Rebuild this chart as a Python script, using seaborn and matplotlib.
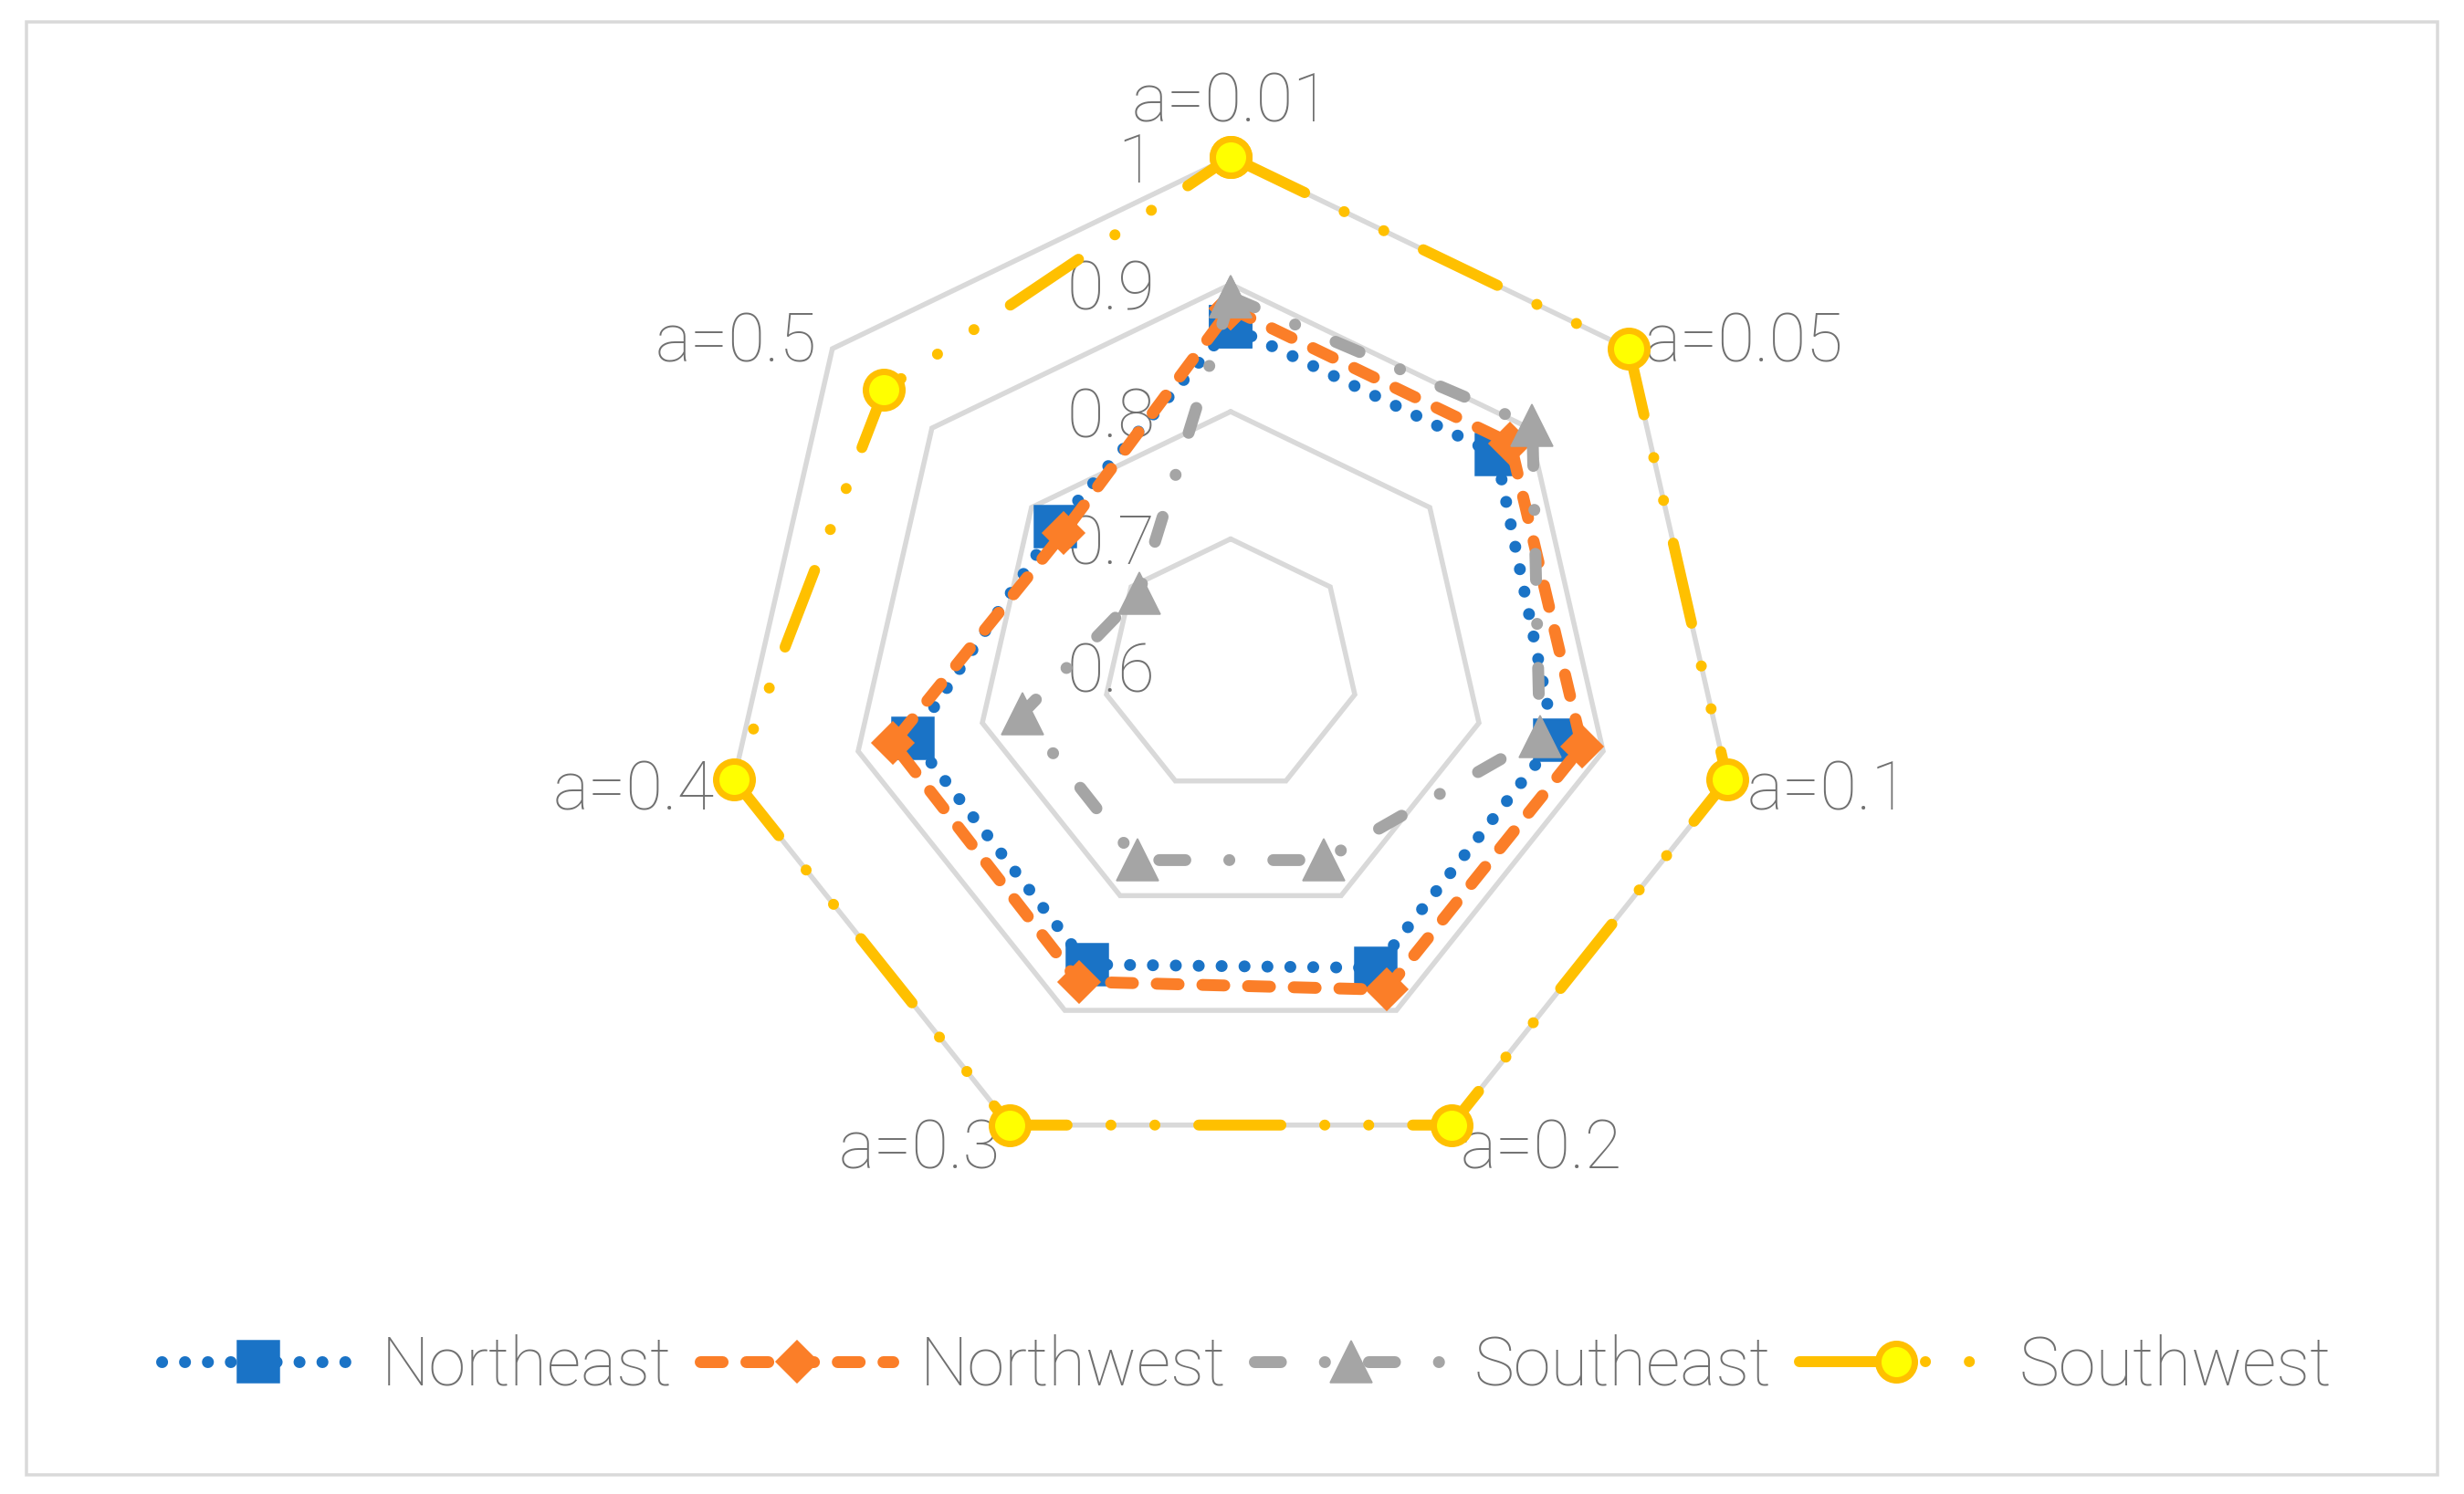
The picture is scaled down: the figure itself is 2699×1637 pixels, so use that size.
import numpy as np
import pandas as pd
import matplotlib
matplotlib.use("Agg")
import matplotlib.pyplot as plt
import seaborn as sns
from matplotlib.patches import Rectangle

# ---------------- data ----------------
categories = ["a=0.01", "a=0.05", "a=0.1", "a=0.2", "a=0.3", "a=0.4", "a=0.5"]
northeast = [0.867, 0.867, 0.861, 0.863, 0.860, 0.856, 0.776]
northwest = [0.881, 0.881, 0.883, 0.882, 0.875, 0.872, 0.768]
southeast = [0.890, 0.903, 0.849, 0.769, 0.769, 0.768, 0.692]
southwest = [1.0, 1.0, 1.0, 1.0, 1.0, 1.0, 0.948]
series_names = ["Northeast", "Northwest", "Southeast", "Southwest"]
r_ticks = [0.6, 0.7, 0.8, 0.9, 1.0]
r_tick_labels = ["0.6", "0.7", "0.8", "0.9", "1"]

# ---------------- style ----------------
sns.set_theme(style="white")
FAMILY = ["Roboto", "Noto Sans CJK SC", "DejaVu Sans"]
plt.rcParams["font.family"] = FAMILY
TXT = "#707070"
GRID = "#d9d9d9"
FS = 74
WEIGHT = "light"

W, H, DPI = 2699, 1637, 72
fig = plt.figure(figsize=(W / DPI, H / DPI), dpi=DPI)
fig.patch.set_facecolor("white")
fig.patches.append(Rectangle((29 / W, 1 - 1616 / H), (2670 - 29) / W, (1616 - 24) / H,
                             transform=fig.transFigure, fill=False,
                             edgecolor=GRID, linewidth=3.5))

# polar axes: centre (1348, 730) px, radius for r=1.0 is 558 px
r_max = 1.05
R_tot = 558 * (r_max - r_ticks[0]) / (r_ticks[-1] - r_ticks[0])
cx, cy = 1348, H - 730
ax = fig.add_axes([(cx - R_tot) / W, (cy - R_tot) / H, 2 * R_tot / W, 2 * R_tot / H],
                  projection="polar")
ax.set_theta_zero_location("N")
ax.set_theta_direction(-1)
ax.set_ylim(r_ticks[0], r_max)
ax.grid(False)
ax.spines["polar"].set_visible(False)
ax.set_xticks([])
ax.set_yticks([])
ax.set_facecolor("none")

n = len(categories)
theta = np.linspace(0, 2 * np.pi, n, endpoint=False)
theta_closed = np.append(theta, 2 * np.pi)

# polygonal gridlines
for r in r_ticks[1:]:
    ax.plot(theta_closed, [r] * (n + 1), color=GRID, lw=5.5, zorder=1,
            solid_joinstyle="miter")

txt_kw = dict(fontsize=FS, color=TXT, fontweight=WEIGHT, family=FAMILY)

# radial value labels
for r, lab in zip(r_ticks, r_tick_labels):
    ax.annotate(lab, xy=(0, r), xytext=(-83, 0), textcoords="offset points",
                ha="right", va="center_baseline", zorder=1.5, **txt_kw)

# category labels
for t, lab in zip(theta, categories):
    s, c = np.sin(t), np.cos(t)
    if abs(s) < 1e-6:
        ax.annotate(lab, xy=(t, r_ticks[-1]), xytext=(0, 39), textcoords="offset points",
                    ha="center", va="baseline", **txt_kw)
    else:
        ax.annotate(lab, xy=(t, r_ticks[-1]), xytext=(22 * s, 22 * c),
                    textcoords="offset points", ha="left" if s > 0 else "right",
                    va="center_baseline", **txt_kw)

# series
series_values = [northeast, northwest, southeast, southwest]
styles = [
    dict(color="#1a73c6", lw=13, linestyle=(0, (0.01, 1.92)), dash_capstyle="round",
         marker="s", markersize=46, markerfacecolor="#1a73c6",
         markeredgecolor="#1a73c6", markeredgewidth=1.5),
    dict(color="#fb7e28", lw=13, linestyle=(0, (1.85, 2.0)), dash_capstyle="round",
         marker="D", markersize=33, markerfacecolor="#fb7e28",
         markeredgecolor="#fb7e28", markeredgewidth=1.5),
    dict(color="#a5a5a5", lw=13, linestyle=(0, (2.2, 3.7, 0.01, 3.7)), dash_capstyle="round",
         marker="^", markersize=46, markerfacecolor="#a5a5a5",
         markeredgecolor="#a5a5a5", markeredgewidth=1.5),
    dict(color="#ffc000", lw=12, linestyle=(0, (7.5, 4.0, 0.01, 4.0, 0.01, 4.0)),
         dash_capstyle="round", marker="o", markersize=40, markerfacecolor="#ffff00",
         markeredgecolor="#ffc000", markeredgewidth=7),
]
for name, vals, st in zip(series_names, series_values, styles):
    df = pd.DataFrame({"theta": theta_closed, "value": list(vals) + [vals[0]]})
    sns.lineplot(data=df, x="theta", y="value", ax=ax, sort=False, estimator=None,
                 legend=False, label=name, zorder=3, clip_on=False, **st)

ax.set_xlabel("")
ax.set_ylabel("")
ax.set_xticks([])
ax.set_yticks([])

handles, labels = ax.get_legend_handles_labels()
fig.legend(handles, labels, loc="center", bbox_to_anchor=(0.506, 140 / H), ncol=4,
           frameon=False, handlelength=2.85, handletextpad=0.4,
           columnspacing=0.42, numpoints=1, labelcolor=TXT,
           prop={"size": FS, "weight": WEIGHT, "family": FAMILY})

fig.savefig("out.png", dpi=DPI, facecolor="white")
